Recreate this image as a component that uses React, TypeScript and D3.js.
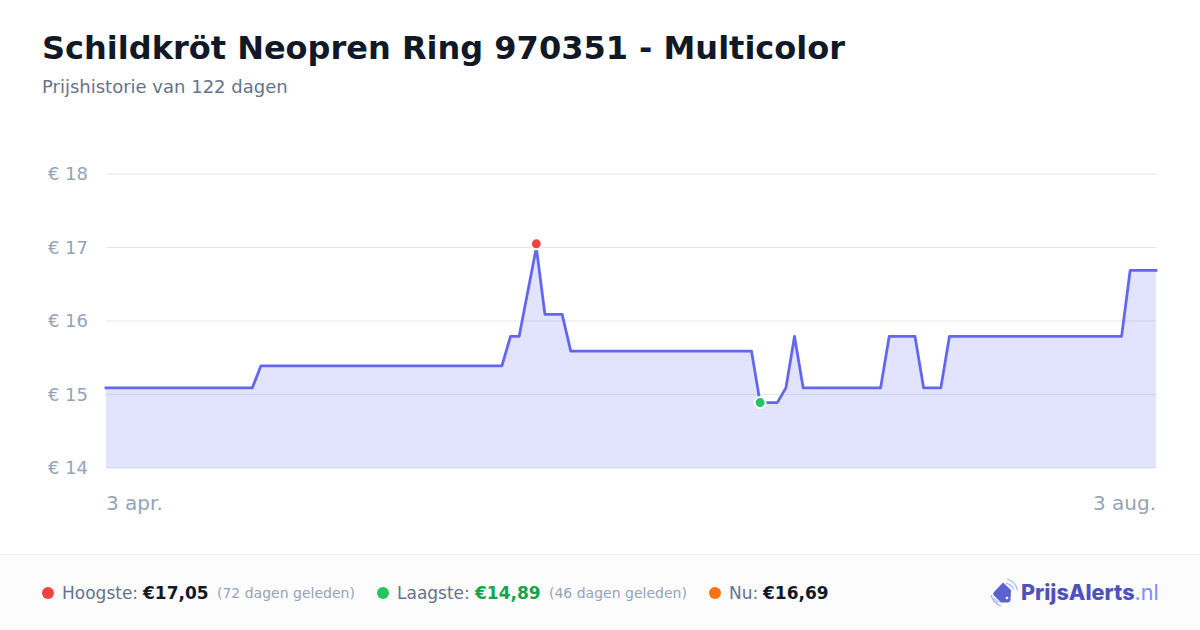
import * as d3 from 'd3';

const title = 'Schildkröt Neopren Ring 970351 - Multicolor';
const subtitle = 'Prijshistorie van 122 dagen';

// days since 3 apr. where the price changes
const days = [0, 17, 18, 46, 47, 48, 50, 51, 53, 54, 75, 76, 78, 79, 80, 81, 90, 91, 94, 95, 97, 98, 118, 119, 122];
const prices = [15.09, 15.09, 15.39, 15.39, 15.79, 15.79, 17.0, 16.09, 16.09, 15.59, 15.59, 14.89, 14.89, 15.09, 15.79, 15.09, 15.09, 15.79, 15.79, 15.09, 15.09, 15.79, 15.79, 16.69, 16.69];

const yTicks = [14, 15, 16, 17, 18];
const xLabels = ['3 apr.', '3 aug.'];
const highDay = 50;
const highPrice = 17.05;
const lowDay = 76;
const lowPrice = 14.89;

const font = '"DejaVu Sans", sans-serif';

export default function App() {
    const x = d3.scaleLinear().domain([0, 122]).range([106, 1156]);
    const y = d3.scaleLinear().domain([14, 18]).range([468, 174]);
    const points = days.map((d, i) => [d, prices[i]] as [number, number]);

    const line = d3
        .line<[number, number]>()
        .x((d) => x(d[0]))
        .y((d) => y(d[1]));
    const area = d3
        .area<[number, number]>()
        .x((d) => x(d[0]))
        .y0(y(14))
        .y1((d) => y(d[1]));

    return (
        <svg
            width={1200}
            height={630}
            style={{ position: 'absolute', left: 0, top: 0, background: '#fff', fontFamily: font }}
        >
            <text x={42} y={59} fontSize={32} fontWeight={700} fill="#111827">
                {title}
            </text>
            <text x={42} y={93} fontSize={18} fill="#64748b">
                {subtitle}
            </text>

            {yTicks.map((t) => (
                <g key={t}>
                    <line x1={106} x2={1156} y1={y(t)} y2={y(t)} stroke="#e5e7eb" strokeWidth={1} />
                    <text x={88} y={y(t) + 6} fontSize={18} fill="#94a3b8" textAnchor="end">
                        € {t}
                    </text>
                </g>
            ))}

            <path d={area(points) ?? ''} fill="#818cf8" fillOpacity={0.23} />
            <path
                d={line(points) ?? ''}
                fill="none"
                stroke="#6366f1"
                strokeWidth={2.8}
                strokeLinecap="square"
                strokeLinejoin="round"
            />

            <circle cx={x(highDay)} cy={y(highPrice)} r={5.5} fill="#ef4444" stroke="#fff" strokeWidth={2} />
            <circle cx={x(lowDay)} cy={y(lowPrice)} r={5.5} fill="#22c55e" stroke="#fff" strokeWidth={2} />

            <text x={106} y={510} fontSize={20} fill="#94a3b8">
                {xLabels[0]}
            </text>
            <text x={1156} y={510} fontSize={20} fill="#94a3b8" textAnchor="end">
                {xLabels[1]}
            </text>

            <rect x={0} y={554} width={1200} height={76} fill="#fcfcfd" />
            <line x1={0} x2={1200} y1={554.5} y2={554.5} stroke="#f1f2f4" />

            <circle cx={48} cy={593} r={6} fill="#ef4444" />
            <text x={62} y={599} fontSize={17} fill="#64748b">
                Hoogste:
            </text>
            <text x={143} y={599} fontSize={17} fontWeight={700} fill="#111827">
                €17,05
            </text>
            <text x={217} y={598} fontSize={14} fill="#94a3b8">
                (72 dagen geleden)
            </text>

            <circle cx={383} cy={593} r={6} fill="#22c55e" />
            <text x={397} y={599} fontSize={17} fill="#64748b">
                Laagste:
            </text>
            <text x={475} y={599} fontSize={17} fontWeight={700} fill="#16a34a">
                €14,89
            </text>
            <text x={549} y={598} fontSize={14} fill="#94a3b8">
                (46 dagen geleden)
            </text>

            <circle cx={715} cy={593} r={6} fill="#f97316" />
            <text x={729} y={599} fontSize={17} fill="#64748b">
                Nu:
            </text>
            <text x={763} y={599} fontSize={17} fontWeight={700} fill="#111827">
                €16,69
            </text>

            <g>
                <path
                    d="M1003 582.5 L1011 590 L1010.5 600 Q1010 602.5 1007.5 602.5 L1001 602.5 L993.5 595 Q992.5 593.5 994 592 Z"
                    fill="#5b63d3"
                />
                <circle cx={1007} cy={598} r={1.3} fill="#fff" />
                <path d="M1007 579 Q1015 581 1017.5 590" fill="none" stroke="#a5b4fc" strokeWidth={1.2} />
                <path d="M1006 583 Q1011 584.5 1013.5 589" fill="none" stroke="#a5b4fc" strokeWidth={1.2} />
                <path d="M991 595 Q993 603 1001 606" fill="none" stroke="#a5b4fc" strokeWidth={1.2} />
                <path d="M994 598 Q996 601 999 602.5" fill="none" stroke="#a5b4fc" strokeWidth={1.2} />
            </g>
            <text x={1021} y={600} fontSize={21.6} fontWeight={800} fontFamily="Inter, sans-serif" fill="#4f52b8">
                PrijsAlerts
                <tspan fontWeight={400} fill="#818cf8">
                    .nl
                </tspan>
            </text>
        </svg>
    );
}
